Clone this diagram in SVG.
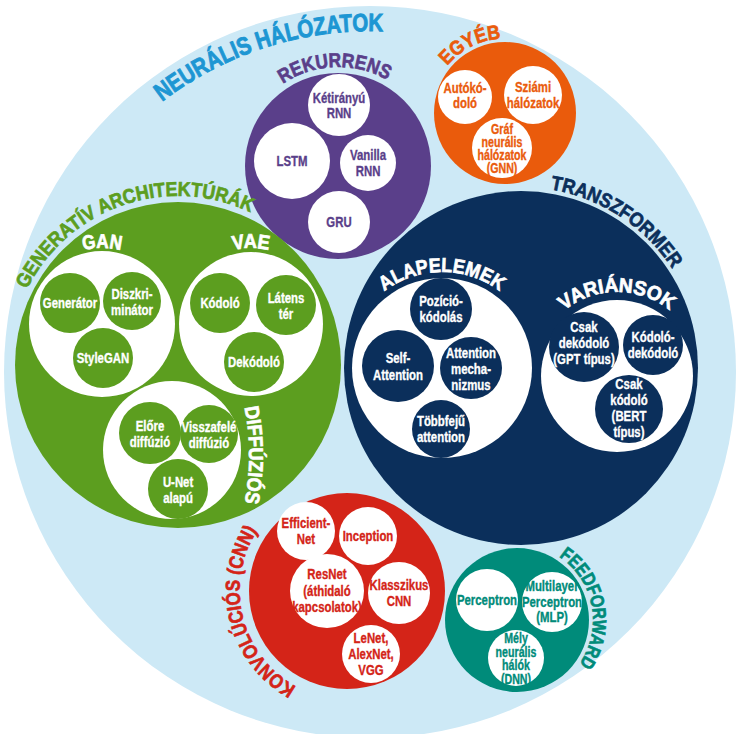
<svg xmlns="http://www.w3.org/2000/svg" width="741" height="734" viewBox="0 0 741 734">
<style>
text{font-family:'Liberation Sans',Arial,sans-serif;font-weight:bold;text-anchor:middle;font-size:15px;stroke-width:0.35px}
.s{transform:scaleX(0.76);transform-box:fill-box;transform-origin:center}
.hd{font-size:20px;stroke-width:0.7px}
.wt{fill:#fff}
.cp{fill:#5a3f8a}.co{fill:#ea5b0c}.cg{fill:#5c9e1f}.cn{fill:#0b2f5b}.cr{fill:#d42418}.ct{fill:#008b7a}
text.wt{stroke:#fff}text.cp{stroke:#5a3f8a}text.co{stroke:#ea5b0c}text.cg{stroke:#5c9e1f}text.cn{stroke:#0b2f5b}text.cr{stroke:#d42418}text.ct{stroke:#008b7a}
.w{fill:#fff}
</style>
<defs>
<path id="a-title" d="M45.1,475.7 A341,341 0 0 1 694.9,268.3"/>
<path id="a-rek" d="M239.06,169.46 A99,99 0 0 1 436.94,162.54"/>
<path id="a-egy" d="M437.3,147.5 A76,76 0 0 1 572.7,78.5"/>
<path id="a-gen" d="M18.2,420 A169,169 0 0 1 337.8,310"/>
<path id="a-gan" d="M26,324 A76,76 0 0 1 178,324"/>
<path id="a-vae" d="M175,324 A76,76 0 0 1 327,324"/>
<path id="a-dif" d="M243,400 A250,250 0 0 1 243,510"/>
<path id="a-tra" d="M369.2,269.4 A181,181 0 0 1 672.8,466.6"/>
<path id="a-ala" d="M346,368 A96,96 0 0 1 538,368"/>
<path id="a-var" d="M533,376 A84,84 0 0 1 701,376"/>
<path id="a-kon" d="M373.6,697.7 A110,110 0 0 1 320.4,484.3"/>
<path id="a-fee" d="M503.15,545.27 A76,76 0 0 1 530.85,694.73"/>
</defs>

<g id="neuralis-halozatok">
<circle cx="370" cy="372" r="366" fill="#cde9f6"/>
<text style="font-size:25px;fill:#1d96d3;stroke:#1d96d3;stroke-width:0.9px"><textPath href="#a-title" startOffset="50%" textLength="237" lengthAdjust="spacingAndGlyphs">NEURÁLIS HÁLÓZATOK</textPath></text>
</g>

<g id="rekurrens">
<circle cx="338" cy="166" r="93" fill="#5a3f8a"/>
<text class="hd cp"><textPath href="#a-rek" startOffset="50%" textLength="110" lengthAdjust="spacingAndGlyphs">REKURRENS</textPath></text>
<g id="ketiranyu-rnn"><circle class="w" cx="339" cy="105" r="31"/><text class="cp s" x="339" y="103"><tspan x="339">Kétirányú</tspan><tspan x="339" dy="15.5">RNN</tspan></text></g>
<g id="lstm"><circle class="w" cx="292" cy="161" r="38"/><text class="cp s" x="292" y="166.5">LSTM</text></g>
<g id="vanilla-rnn"><circle class="w" cx="368" cy="163" r="28"/><text class="cp s" x="368" y="160.5"><tspan x="368">Vanilla</tspan><tspan x="368" dy="16">RNN</tspan></text></g>
<g id="gru"><circle class="w" cx="339" cy="222" r="31"/><text class="cp s" x="339" y="227.5">GRU</text></g>
</g>

<g id="egyeb">
<circle cx="505" cy="113" r="71" fill="#ea5b0c"/>
<text class="hd co"><textPath href="#a-egy" startOffset="50%" textLength="62" lengthAdjust="spacingAndGlyphs">EGYÉB</textPath></text>
<g id="autokodolo"><circle class="w" cx="465" cy="97" r="27"/><text class="co s" x="465" y="93.5"><tspan x="465">Autókó-</tspan><tspan x="465" dy="15">doló</tspan></text></g>
<g id="sziami"><circle class="w" cx="533" cy="95" r="29"/><text class="co s" x="533" y="92.5"><tspan x="533">Sziámi</tspan><tspan x="533" dy="15.5">hálózatok</tspan></text></g>
<g id="gnn"><circle class="w" cx="502" cy="148" r="30"/><text class="co s" style="font-size:14px" x="502" y="134.5"><tspan x="502">Gráf</tspan><tspan x="502" dy="13">neurális</tspan><tspan x="502" dy="13">hálózatok</tspan><tspan x="502" dy="13">(GNN)</tspan></text></g>
</g>

<g id="generativ">
<circle cx="178" cy="365" r="163" fill="#5c9e1f"/>
<text class="hd cg"><textPath href="#a-gen" startOffset="50%" textLength="262" lengthAdjust="spacingAndGlyphs">GENERATÍV ARCHITEKTÚRÁK</textPath></text>
<g id="gan">
<circle class="w" cx="102" cy="324" r="73"/>
<text class="hd wt"><textPath href="#a-gan" startOffset="50%" textLength="38" lengthAdjust="spacingAndGlyphs">GAN</textPath></text>
<g id="generator"><circle class="cg" cx="70" cy="303" r="30"/><text class="wt s" x="70" y="308.5">Generátor</text></g>
<g id="diszkriminator"><circle class="cg" cx="132" cy="301" r="29"/><text class="wt s" x="132" y="299.5"><tspan x="132">Diszkri-</tspan><tspan x="132" dy="16">minátor</tspan></text></g>
<g id="stylegan"><circle class="cg" cx="103" cy="358" r="30"/><text class="wt s" x="103" y="363.5">StyleGAN</text></g>
</g>
<g id="vae">
<circle class="w" cx="251" cy="324" r="72"/>
<text class="hd wt"><textPath href="#a-vae" startOffset="50%" textLength="36" lengthAdjust="spacingAndGlyphs">VAE</textPath></text>
<g id="kodolo"><circle class="cg" cx="220" cy="303" r="30"/><text class="wt s" x="220" y="308.5">Kódoló</text></g>
<g id="latens-ter"><circle class="cg" cx="286" cy="305" r="30"/><text class="wt s" x="286" y="303"><tspan x="286">Látens</tspan><tspan x="286" dy="16">tér</tspan></text></g>
<g id="dekodolo"><circle class="cg" cx="254" cy="362" r="30"/><text class="wt s" x="254" y="367.5">Dekódoló</text></g>
</g>
<g id="diffuzios">
<circle class="w" cx="172" cy="450" r="69"/>
<text class="hd wt"><textPath href="#a-dif" startOffset="50%" textLength="96" lengthAdjust="spacingAndGlyphs">DIFFÚZIÓS</textPath></text>
<g id="elore"><circle class="cg" cx="150" cy="433" r="31"/><text class="wt s" x="150" y="431"><tspan x="150">Előre</tspan><tspan x="150" dy="16">diffúzió</tspan></text></g>
<g id="visszafele"><circle class="cg" cx="209" cy="434" r="29"/><text class="wt s" x="209" y="432"><tspan x="209">Visszafelé</tspan><tspan x="209" dy="16">diffúzió</tspan></text></g>
<g id="unet"><circle class="cg" cx="178" cy="489" r="30"/><text class="wt s" x="178" y="487"><tspan x="178">U-Net</tspan><tspan x="178" dy="16">alapú</tspan></text></g>
</g>
</g>

<g id="transzformer">
<circle cx="521" cy="368" r="177" fill="#0b2f5b"/>
<text class="hd cn"><textPath href="#a-tra" startOffset="50%" textLength="150" lengthAdjust="spacingAndGlyphs">TRANSZFORMER</textPath></text>
<g id="alapelemek">
<circle class="w" cx="442" cy="368" r="90"/>
<text class="hd wt"><textPath href="#a-ala" startOffset="50%" textLength="124" lengthAdjust="spacingAndGlyphs">ALAPELEMEK</textPath></text>
<g id="pozicio"><circle class="cn" cx="441" cy="309" r="31"/><text class="wt s" x="441" y="306.5"><tspan x="441">Pozíció-</tspan><tspan x="441" dy="16">kódolás</tspan></text></g>
<g id="self-attention"><circle class="cn" cx="398" cy="366" r="36"/><text class="wt s" x="398" y="363.5"><tspan x="398">Self-</tspan><tspan x="398" dy="16.5">Attention</tspan></text></g>
<g id="attention-mech"><circle class="cn" cx="471" cy="368" r="31"/><text class="wt s" x="471" y="358"><tspan x="471">Attention</tspan><tspan x="471" dy="16.5">mecha-</tspan><tspan x="471" dy="16">nizmus</tspan></text></g>
<g id="tobbfeju"><circle class="cn" cx="441" cy="429" r="29"/><text class="wt s" x="441" y="426.5"><tspan x="441">Többfejű</tspan><tspan x="441" dy="16">attention</tspan></text></g>
</g>
<g id="variansok">
<circle class="w" cx="617" cy="376" r="76"/>
<text class="hd wt"><textPath href="#a-var" startOffset="50%" textLength="114" lengthAdjust="spacingAndGlyphs">VARIÁNSOK</textPath></text>
<g id="csak-dekodolo"><circle class="cn" cx="584" cy="347" r="35"/><text class="wt s" x="584" y="332.5"><tspan x="584">Csak</tspan><tspan x="584" dy="16">dekódoló</tspan><tspan x="584" dy="16">(GPT típus)</tspan></text></g>
<g id="kodolo-dekodolo"><circle class="cn" cx="653" cy="345" r="30"/><text class="wt s" x="653" y="342.5"><tspan x="653">Kódoló-</tspan><tspan x="653" dy="16">dekódoló</tspan></text></g>
<g id="csak-kodolo"><circle class="cn" cx="629" cy="409" r="34"/><text class="wt s" x="629" y="389"><tspan x="629">Csak</tspan><tspan x="629" dy="16">kódoló</tspan><tspan x="629" dy="16">(BERT</tspan><tspan x="629" dy="16">típus)</tspan></text></g>
</g>
</g>

<g id="konvolucios">
<circle cx="347" cy="591" r="98" fill="#d42418"/>
<text class="hd cr"><textPath href="#a-kon" startOffset="50%" textLength="180" lengthAdjust="spacingAndGlyphs">KONVOLÚCIÓS (CNN)</textPath></text>
<g id="efficientnet"><circle class="w" cx="306" cy="531" r="29"/><text class="cr s" x="306" y="528.5"><tspan x="306">Efficient-</tspan><tspan x="306" dy="16">Net</tspan></text></g>
<g id="inception"><circle class="w" cx="368" cy="536" r="29"/><text class="cr s" x="368" y="541.5">Inception</text></g>
<g id="resnet"><circle class="w" cx="327" cy="591" r="37"/><text class="cr s" x="327" y="579.5"><tspan x="327">ResNet</tspan><tspan x="327" dy="16.5">(áthidaló</tspan><tspan x="327" dy="16.5">kapcsolatok)</tspan></text></g>
<g id="klasszikus"><circle class="w" cx="399" cy="593" r="31"/><text class="cr s" x="399" y="590.5"><tspan x="399">Klasszikus</tspan><tspan x="399" dy="16">CNN</tspan></text></g>
<g id="lenet"><circle class="w" cx="371" cy="654" r="29"/><text class="cr s" x="371" y="643.5"><tspan x="371">LeNet,</tspan><tspan x="371" dy="16">AlexNet,</tspan><tspan x="371" dy="16">VGG</tspan></text></g>
</g>

<g id="feedforward">
<circle cx="517" cy="620" r="72" fill="#008b7a"/>
<text class="hd ct" style="font-size:19px"><textPath href="#a-fee" startOffset="50%" textLength="122" lengthAdjust="spacingAndGlyphs">FEEDFORWARD</textPath></text>
<g id="perceptron"><circle class="w" cx="487" cy="600" r="31"/><text class="ct s" x="487" y="605.5">Perceptron</text></g>
<g id="mlp"><circle class="w" cx="552" cy="602" r="30"/><text class="ct s" x="552" y="591.5"><tspan x="552">Multilayer</tspan><tspan x="552" dy="15.5">Perceptron</tspan><tspan x="552" dy="15.5">(MLP)</tspan></text></g>
<g id="dnn"><circle class="w" cx="516" cy="658" r="28"/><text class="ct s" style="font-size:14px" x="516" y="643"><tspan x="516">Mély</tspan><tspan x="516" dy="14">neurális</tspan><tspan x="516" dy="13.5">hálók</tspan><tspan x="516" dy="13.5">(DNN)</tspan></text></g>
</g>
</svg>
